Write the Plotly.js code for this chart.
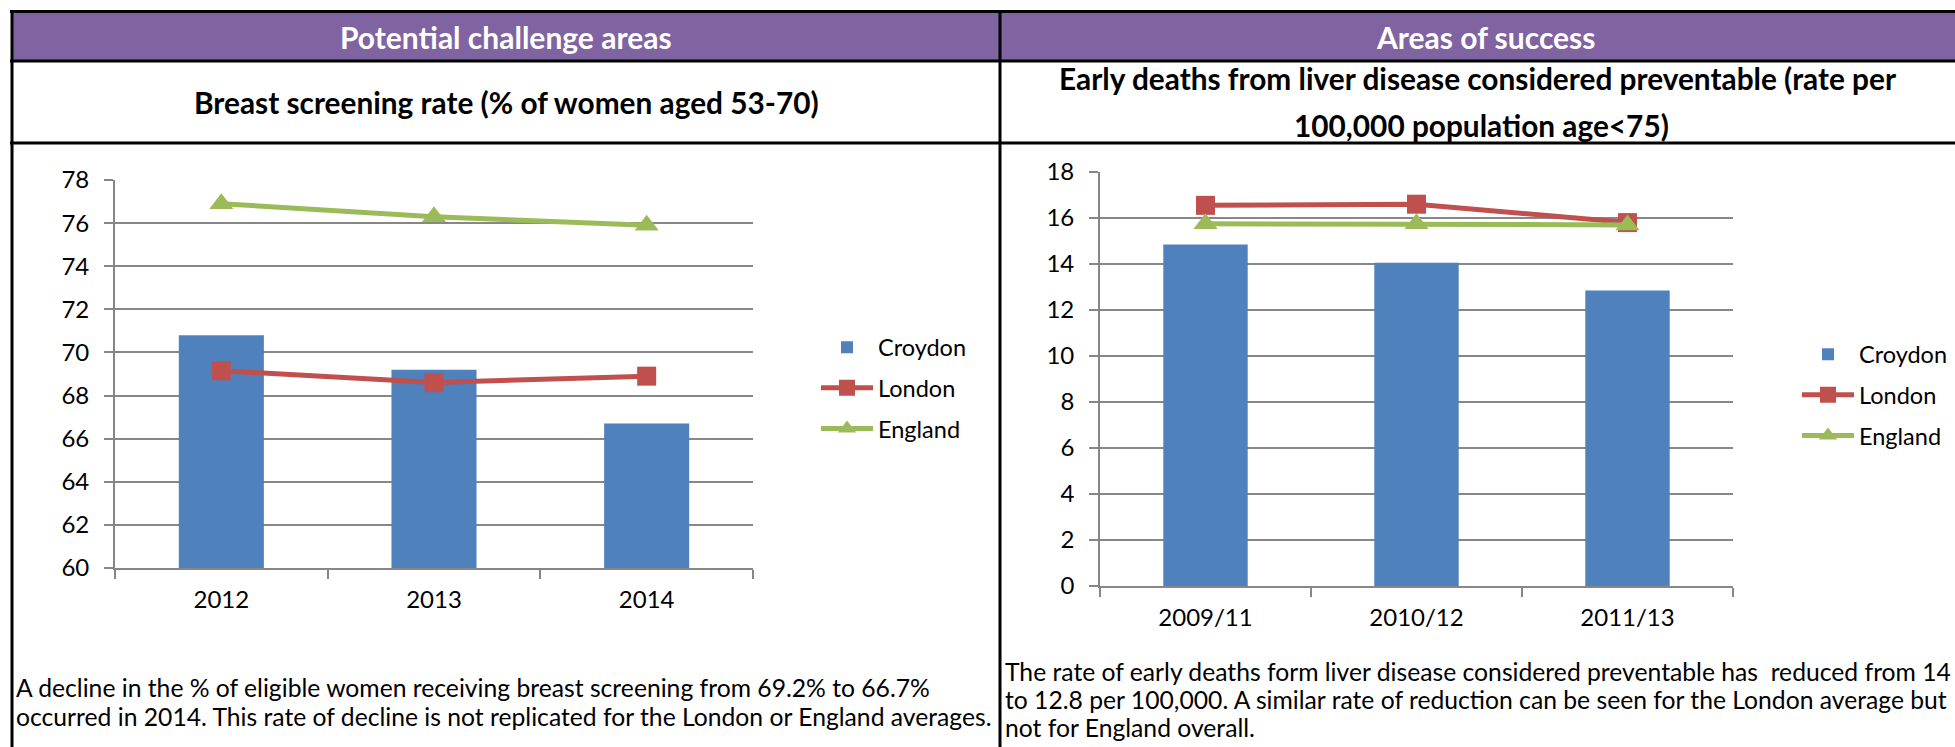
<!DOCTYPE html>
<html><head><meta charset="utf-8">
<script src="https://cdn.plot.ly/plotly-3.0.1.min.js"></script>
<style>html,body{margin:0;padding:0;background:#fff;overflow:hidden}#chart{width:1955px;height:747px}</style>
</head><body><div id="chart"></div>
<script>
// ---- data ----
const screeningYears = ['2012', '2013', '2014'];
const screeningCroydon = [70.8, 69.2, 66.7];
const screeningLondon = [69.15, 68.6, 68.9];
const screeningEngland = [76.9, 76.3, 75.9];

const liverPeriods = ['2009/11', '2010/12', '2011/13'];
const liverCroydon = [14.85, 14.05, 12.85];
const liverLondon = [16.55, 16.6, 15.8];
const liverEngland = [15.75, 15.75, 15.7];

const seriesNames = ['Croydon', 'London', 'England'];
const leftYTicks = [60, 62, 64, 66, 68, 70, 72, 74, 76, 78];
const rightYTicks = [0, 2, 4, 6, 8, 10, 12, 14, 16, 18];

const headerLeft = 'Potential challenge areas';
const headerRight = 'Areas of success';
const titleLeft = 'Breast screening rate (% of women aged 53-70)';
const titleRight1 = 'Early deaths from liver disease considered preventable (rate per';
const titleRight2 = '100,000 population age&lt;75)';
const noteLeft = ['A decline in the % of eligible women receiving breast screening from 69.2% to 66.7%',
  'occurred in 2014. This rate of decline is not replicated for the London or England averages.'];
const noteRight = ['The rate of early deaths form liver disease considered preventable has\u00A0 reduced from 14',
  'to 12.8 per 100,000. A similar rate of reduction can be seen for the London average but',
  'not for England overall.'];

// ---- styling ----
const W = 1955, H = 747;
const X = px => px / W;
const Y = py => 1 - py / H;
const FONT = 'Lato, "Open Sans", sans-serif';
const C_CROY = '#4F81BD', C_LON = '#C0504D', C_ENG = '#9BBB59';
const GRID = '#878787';

function seriesTraces(cats, croy, lon, eng, xa, ya, leg, g) {
  return [
    {type: 'bar', name: seriesNames[0], x: cats, y: croy, xaxis: xa, yaxis: ya, legend: leg,
     legendgroup: g + 'c', marker: {color: C_CROY}, hoverinfo: 'x+y+name'},
    {type: 'scatter', mode: 'lines+markers', name: seriesNames[1], x: cats, y: lon, xaxis: xa, yaxis: ya, legend: leg,
     legendgroup: g + 'l', line: {color: C_LON, width: 5}, marker: {symbol: 'square', size: 19, color: C_LON}},
    {type: 'scatter', mode: 'lines+markers', name: seriesNames[2], x: cats, y: eng, xaxis: xa, yaxis: ya, legend: leg,
     legendgroup: g + 'e', line: {color: C_ENG, width: 5}, marker: {symbol: 'triangle-up', size: 21, color: C_ENG}}
  ];
}

const data = [
  ...seriesTraces(screeningYears, screeningCroydon, screeningLondon, screeningEngland, 'x', 'y', 'legend', 'a'),
  ...seriesTraces(liverPeriods, liverCroydon, liverLondon, liverEngland, 'x2', 'y2', 'legend2', 'b')
];

function xAxis(domain, anchor) {
  return {domain, anchor, type: 'category', showgrid: false, zeroline: false,
    showline: true, linecolor: GRID, linewidth: 1.8,
    ticks: 'outside', tickson: 'boundaries', ticklen: 9, tickwidth: 1.8, tickcolor: GRID,
    tickfont: {family: FONT, size: 24, color: '#000'}, ticklabelstandoff: 9, fixedrange: true};
}
function yAxis(domain, anchor, range, tickvals) {
  return {domain, anchor, range, tickvals, showgrid: true, gridcolor: GRID, gridwidth: 1.8, zeroline: false,
    showline: true, linecolor: GRID, linewidth: 1.8,
    ticks: 'outside', ticklen: 9, tickwidth: 1.8, tickcolor: GRID,
    tickfont: {family: FONT, size: 24, color: '#000'}, ticklabelstandoff: 10, fixedrange: true};
}

function legendAt(px, py) {
  return {x: X(px), xanchor: 'left', y: Y(py), yanchor: 'middle', bgcolor: 'rgba(0,0,0,0)',
    font: {family: FONT, size: 23.5, color: '#000'}, itemwidth: 52, traceorder: 'grouped', tracegroupgap: 7,
    itemclick: false, itemdoubleclick: false};
}

const blackLine = (x0, y0, x1, y1) => ({type: 'line', xref: 'paper', yref: 'paper',
  x0: X(x0), y0: Y(y0), x1: X(x1), y1: Y(y1), line: {color: '#000', width: 3}});

const shapes = [
  {type: 'rect', xref: 'paper', yref: 'paper', x0: X(12), x1: X(1960), y0: Y(61), y1: Y(11),
   fillcolor: '#8064A2', line: {width: 0}, layer: 'below'},
  blackLine(10, 11.5, 1960, 11.5),
  blackLine(10, 61, 1960, 61),
  blackLine(10, 143, 1960, 143),
  blackLine(12, 10, 12, 760),
  blackLine(1000, 10, 1000, 760)
];

function ann(text, px, py, opts) {
  return Object.assign({text, x: X(px), y: Y(py), xref: 'paper', yref: 'paper', showarrow: false,
    xanchor: 'center', yanchor: 'middle', font: {family: FONT, size: 29.8, color: '#000'}}, opts || {});
}
const bodyFont = {family: FONT, size: 24.7, color: '#000'};
const headFont = {family: FONT, size: 30, color: '#fff'};

const annotations = [
  ann('<b>' + headerLeft + '</b>', 506, 37, {font: headFont}),
  ann('<b>' + headerRight + '</b>', 1486, 37, {font: headFont}),
  ann('<b>' + titleLeft + '</b>', 506, 103),
  ann('<b>' + titleRight1 + '</b>', 1478, 79),
  ann('<b>' + titleRight2 + '</b>', 1481, 126),
  ...noteLeft.map((t, i) => ann(t, 14, 687 + 29 * i, {xanchor: 'left', align: 'left', font: bodyFont})),
  ...noteRight.map((t, i) => ann(t, 1003, 671 + 28 * i, {xanchor: 'left', align: 'left', font: bodyFont}))
];

const layout = {
  width: W, height: H, margin: {l: 0, r: 0, t: 0, b: 0},
  paper_bgcolor: '#fff', plot_bgcolor: 'rgba(0,0,0,0)',
  font: {family: FONT, size: 22, color: '#000'},
  bargap: 0.6, hovermode: 'closest',
  xaxis: xAxis([X(115), X(753)], 'y'),
  yaxis: yAxis([Y(568), Y(180)], 'x', [60, 78], leftYTicks),
  xaxis2: xAxis([X(1100), X(1733)], 'y2'),
  yaxis2: yAxis([Y(586), Y(172)], 'x2', [0, 18], rightYTicks),
  legend: legendAt(816, 388),
  legend2: legendAt(1797, 395),
  shapes, annotations
};

Plotly.newPlot('chart', data, layout, {displayModeBar: false, responsive: false});
</script>
</body></html>
